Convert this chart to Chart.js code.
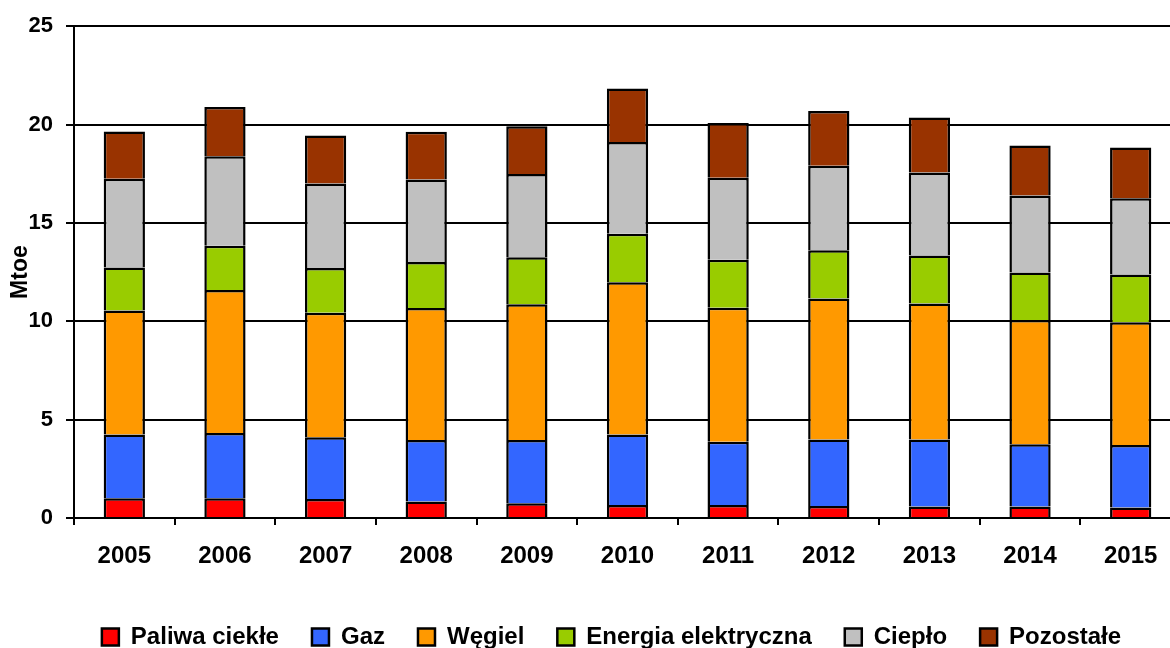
<!DOCTYPE html>
<html lang="pl">
<head>
<meta charset="utf-8">
<title>Zużycie energii końcowej według nośników</title>
<script src="https://cdn.jsdelivr.net/npm/chart.js@4/dist/chart.umd.min.js"></script>
<style>
  html, body { margin: 0; padding: 0; background: #fff; overflow: hidden; }
  #wrap { position: relative; width: 1170px; height: 648px; overflow: hidden; }
  #box { position: absolute; left: 0; top: 0; width: 1181px; height: 659px; }
</style>
</head>
<body>
<div id="wrap"><div id="box"><canvas id="chart"></canvas></div></div>
<script>
// Lata
const years = ['2005', '2006', '2007', '2008', '2009', '2010', '2011', '2012', '2013', '2014', '2015'];

// Nośniki energii [Mtoe]
const paliwaCiekle = [1.01, 1.01, 0.96, 0.84, 0.75, 0.66, 0.66, 0.61, 0.58, 0.58, 0.54];
const gaz          = [3.23, 3.31, 3.14, 3.13, 3.22, 3.58, 3.21, 3.38, 3.41, 3.17, 3.17];
const wegiel       = [6.31, 7.27, 6.33, 6.70, 6.89, 7.75, 6.82, 7.17, 6.92, 6.31, 6.24];
const energiaEl    = [2.18, 2.25, 2.28, 2.34, 2.39, 2.46, 2.44, 2.45, 2.44, 2.42, 2.43];
const cieplo       = [4.51, 4.55, 4.29, 4.20, 4.24, 4.66, 4.16, 4.29, 4.21, 3.91, 3.87];
const pozostale    = [2.41, 2.50, 2.44, 2.42, 2.42, 2.72, 2.79, 2.79, 2.80, 2.54, 2.58];

// Podpisy osi Y
const yTicks = [0, 5, 10, 15, 20, 25];

const seriesNames  = ['Paliwa ciekłe', 'Gaz', 'Węgiel', 'Energia elektryczna', 'Ciepło', 'Pozostałe'];
const seriesValues = [paliwaCiekle, gaz, wegiel, energiaEl, cieplo, pozostale];
const seriesColors = ['#FF0000', '#3366FF', '#FF9900', '#99CC00', '#C0C0C0', '#993300'];

const FONT = "'Liberation Sans', Arial, Helvetica, sans-serif";

// Dolna krawędź segmentu pomijana – linię podziału rysuje górna krawędź segmentu niżej
const datasets = seriesNames.map((name, i) => ({
  label: name,
  data: seriesValues[i],
  backgroundColor: seriesColors[i],
  borderColor: '#000000',
  borderWidth: 2.5,
  borderSkipped: 'bottom',
  categoryPercentage: 1.0,
  barPercentage: 0.41
}));

// Legenda wyśrodkowana względem całej szerokości rysunku
const legendShift = {
  id: 'legendShift',
  afterLayout(chart) {
    chart.legend.left += 21;
    chart.legend.right += 21;
  }
};

new Chart(document.getElementById('chart'), {
  type: 'bar',
  data: { labels: years, datasets },
  plugins: [legendShift],
  options: {
    responsive: true,
    maintainAspectRatio: false,
    animation: false,
    layout: { padding: { left: 0, right: 0, top: 24, bottom: 0 } },
    plugins: {
      tooltip: { enabled: false },
      legend: {
        position: 'bottom',
        labels: {
          color: '#000',
          font: { family: FONT, size: 24, weight: 'bold' },
          boxWidth: 17,
          boxHeight: 17,
          padding: 33
        }
      }
    },
    scales: {
      x: {
        stacked: true,
        offset: true,
        afterFit(scale) { scale.height = 74; },
        grid: {
          display: true,
          offset: true,
          drawOnChartArea: false,
          drawTicks: true,
          tickLength: 7,
          color: '#000',
          lineWidth: 2
        },
        border: { display: true, color: '#000', width: 2 },
        ticks: {
          color: '#000',
          padding: 17,
          maxRotation: 0,
          autoSkip: false,
          font: { family: FONT, size: 24, weight: 'bold' }
        }
      },
      y: {
        stacked: true,
        min: 0,
        max: 25,
        afterFit(scale) { scale.width = 74; },
        afterBuildTicks(scale) { scale.ticks = yTicks.map(v => ({ value: v })); },
        grid: {
          color: '#000',
          lineWidth: 2,
          tickLength: 8
        },
        border: { display: true, color: '#000', width: 2 },
        ticks: {
          color: '#000',
          padding: 13,
          font: { family: FONT, size: 22, weight: 'bold' }
        },
        title: {
          display: true,
          text: 'Mtoe',
          color: '#000',
          padding: { top: 7, bottom: 0 },
          font: { family: FONT, size: 23, weight: 'bold' }
        }
      }
    }
  }
});
</script>
</body>
</html>
